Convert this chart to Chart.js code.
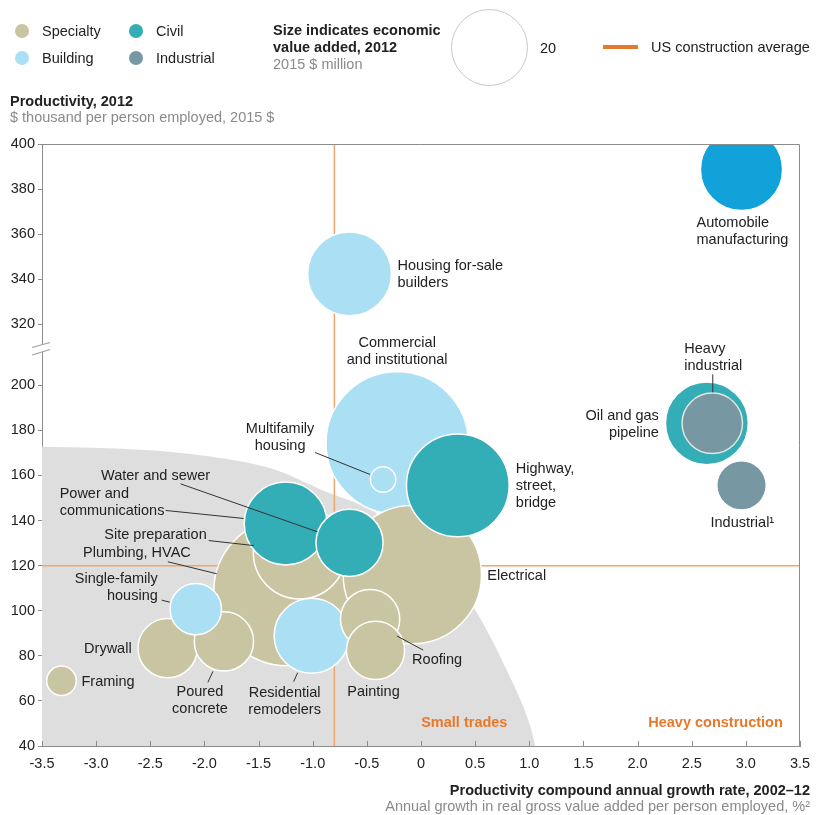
<!DOCTYPE html>
<html>
<head>
<meta charset="utf-8">
<script src="https://cdn.jsdelivr.net/npm/chart.js@4.4.1/dist/chart.umd.min.js"></script>
<style>
  body { margin: 0; background: #fff; font-family: "Liberation Sans", Arial, sans-serif; }
  #page { position: relative; width: 816px; height: 815px; overflow: hidden; }
  #chart { position: absolute; left: 0; top: 0; }
  .t { position: absolute; font-size: 14.5px; color: #222; white-space: nowrap; line-height: 17px; transform: translateY(-50%); }
  .b { font-weight: bold; }
  .g { color: #8a8a8a; }
  .dot { position: absolute; width: 14px; height: 14px; border-radius: 50%; transform: translate(-50%, -50%); }
</style>
</head>
<body>
<div id="page">
  <canvas id="chart" width="816" height="815"></canvas>

  <div class="dot" style="left:22px;top:31px;background:#c9c4a1"></div>
  <div class="t" style="left:42px;top:31px">Specialty</div>
  <div class="dot" style="left:22px;top:58px;background:#abdff3"></div>
  <div class="t" style="left:42px;top:58px">Building</div>
  <div class="dot" style="left:136px;top:31px;background:#33aeb6"></div>
  <div class="t" style="left:156px;top:31px">Civil</div>
  <div class="dot" style="left:136px;top:58px;background:#7797a3"></div>
  <div class="t" style="left:156px;top:58px">Industrial</div>

  <div class="t b" style="left:273px;top:30px">Size indicates economic</div>
  <div class="t b" style="left:273px;top:47px">value added, 2012</div>
  <div class="t g" style="left:273px;top:64px">2015 $ million</div>
  <div style="position:absolute;left:451px;top:9px;width:75px;height:75px;border:1.5px solid #c8c8c8;border-radius:50%"></div>
  <div class="t" style="left:540px;top:48px">20</div>
  <div style="position:absolute;left:603px;top:45px;width:35px;height:4px;background:#e8792b"></div>
  <div class="t" style="left:651px;top:47px">US construction average</div>

  <div class="t b" style="left:10px;top:101px">Productivity, 2012</div>
  <div class="t g" style="left:10px;top:117px">$ thousand per person employed, 2015 $</div>

  <div class="t b" style="right:6px;top:790px">Productivity compound annual growth rate, 2002–12</div>
  <div class="t g" style="right:6px;top:806px">Annual growth in real gross value added per person employed, %²</div>
</div>

<script>
// sectors, in drawing order (later ones sit on top)
const sectors = [
  "Commercial and institutional", "Plumbing, HVAC", "Site preparation", "Electrical",
  "Power and communications", "Water and sewer", "Highway, street, bridge", "Multifamily housing",
  "Residential remodelers", "Roofing", "Painting", "Drywall", "Poured concrete",
  "Single-family housing", "Framing", "Housing for-sale builders", "Oil and gas pipeline",
  "Heavy industrial", "Industrial", "Automobile manufacturing"
];
const sectorType = [
  "Building", "Specialty", "Specialty", "Specialty",
  "Civil", "Civil", "Civil", "Building",
  "Building", "Specialty", "Specialty", "Specialty", "Specialty",
  "Building", "Specialty", "Building", "Civil",
  "Industrial", "Industrial", "Auto"
];
// productivity CAGR 2002-12, %
const growthRate = [
  -0.22, -1.23, -1.12, -0.08,
  -1.25, -0.66, 0.34, -0.35,
  -1.01, -0.47, -0.42, -2.34, -1.82,
  -2.08, -3.32, -0.66, 2.64,
  2.69, 2.96, 2.96
];
// productivity 2012, $ thousand per person employed
const productivity = [
  174.4, 108.4, 125.8, 116,
  138.7, 130.1, 155.6, 158.2,
  88.9, 96.3, 82.4, 83.4, 86.4,
  100.7, 68.9, 342.4, 183.1,
  183.1, 155.6, 388.7
];
// economic value added 2012 (bubble area)
const valueAdded = [
  72, 78, 30.6, 68,
  24.4, 16, 37.5, 2.3,
  20, 12.5, 12, 12.5, 12.5,
  9.4, 3.1, 25, 24.4,
  13, 8.7, 24
];

const usAvgGrowth = -0.8;
const usAvgProductivity = 120;

const xTicks = [-3.5, -3, -2.5, -2, -1.5, -1, -0.5, 0, 0.5, 1, 1.5, 2, 2.5, 3, 3.5];
const yTicksLow = [40, 60, 80, 100, 120, 140, 160, 180, 200];
const yTicksHigh = [320, 340, 360, 380, 400];

// outline of the "small trades" zone
const smallTradesEdge = [
  [-3.5, 172.7], [-2.59, 171.4], [-1.98, 168.6], [-1.36, 162.7], [-0.9, 153.2],
  [-0.44, 144.1], [0.0, 128], [0.25, 116], [0.49, 101.2], [0.79, 73.8], [1.01, 48.6], [1.055, 40]
];

// broken y axis: values above the break are pulled down
const breakLow = 200, breakHigh = 320, gapUnits = 27;
const shift = breakHigh - breakLow - gapUnits;
const toAxis = v => v > breakLow ? v - shift : v;

const colors = {
  Specialty: "#c9c4a1",
  Building: "#abdff3",
  Civil: "#33aeb6",
  Industrial: "#7797a3",
  Auto: "#10a2d8"
};

const legendSize = 20, legendRadius = 37.5;
const radiusFor = v => legendRadius * Math.sqrt(v / legendSize);

// callouts: offsets from the bubble centre, in px
const callouts = [
  { name: "Automobile manufacturing", lines: ["Automobile", "manufacturing"], dx: -45, dy: 54, align: "left" },
  { name: "Housing for-sale builders", lines: ["Housing for-sale", "builders"], dx: 48, dy: -8, align: "left" },
  { name: "Commercial and institutional", lines: ["Commercial", "and institutional"], dx: 0, dy: -100, align: "center" },
  { name: "Multifamily housing", lines: ["Multifamily", "housing"], dx: -103, dy: -50, align: "center", leader: [-68, -27, -13, -5] },
  { name: "Water and sewer", lines: ["Water and sewer"], dx: -194, dy: -67, align: "center", leader: [-169, -59, -32, -11] },
  { name: "Power and communications", lines: ["Power and", "communications"], dx: -226, dy: -29, align: "left", leader: [-120, -13, -42, -5] },
  { name: "Site preparation", lines: ["Site preparation"], dx: -93, dy: -18, align: "right", leader: [-91, -12, -46, -7] },
  { name: "Plumbing, HVAC", lines: ["Plumbing, HVAC"], dx: -97, dy: -39, align: "right", leader: [-120, -30, -71, -18] },
  { name: "Single-family housing", lines: ["Single-family", "housing"], dx: -38, dy: -30, align: "right", leader: [-34, -9, -26, -7] },
  { name: "Drywall", lines: ["Drywall"], dx: -36, dy: 1, align: "right" },
  { name: "Framing", lines: ["Framing"], dx: 20, dy: 1, align: "left" },
  { name: "Poured concrete", lines: ["Poured", "concrete"], dx: -24, dy: 51, align: "center", leader: [-16, 41, -11, 30] },
  { name: "Residential remodelers", lines: ["Residential", "remodelers"], dx: -27, dy: 57, align: "center", leader: [-18, 46, -14, 37] },
  { name: "Painting", lines: ["Painting"], dx: -2, dy: 42, align: "center" },
  { name: "Roofing", lines: ["Roofing"], dx: 42, dy: 41, align: "left", leader: [53, 31, 27, 17] },
  { name: "Electrical", lines: ["Electrical"], dx: 75, dy: 1, align: "left" },
  { name: "Highway, street, bridge", lines: ["Highway,", "street,", "bridge"], dx: 58, dy: -16, align: "left" },
  { name: "Oil and gas pipeline", lines: ["Oil and gas", "pipeline"], dx: -48, dy: -7, align: "right" },
  { name: "Heavy industrial", lines: ["Heavy", "industrial"], dx: -28, dy: -74, align: "left", leader: [0.5, -49, 0.5, -31] },
  { name: "Industrial", lines: ["Industrial¹"], dx: -31, dy: 38, align: "left" }
];

const FONT = '14.5px "Liberation Sans", Arial, sans-serif';
const BOLD = 'bold 14.5px "Liberation Sans", Arial, sans-serif';

const decor = {
  id: "decor",
  afterDatasetsDraw(chart) {
    const { ctx, chartArea: a, scales: { x, y } } = chart;
    const meta = chart.getDatasetMeta(0);
    ctx.save();

    // frame top and right
    ctx.strokeStyle = "#8c8c8c";
    ctx.lineWidth = 1;
    ctx.beginPath();
    ctx.moveTo(a.left, a.top + 0.5);
    ctx.lineTo(a.right - 0.5, a.top + 0.5);
    ctx.lineTo(a.right - 0.5, a.bottom);
    ctx.stroke();

    // x tick marks point inward
    ctx.beginPath();
    xTicks.forEach(v => {
      const px = Math.round(x.getPixelForValue(v)) + 0.5;
      ctx.moveTo(px, a.bottom);
      ctx.lineTo(px, a.bottom - 5);
    });
    ctx.stroke();

    // axis break
    const by = y.getPixelForValue(216.3);
    ctx.fillStyle = "#fff";
    ctx.fillRect(a.left - 2, by - 3.5, 4, 7);
    ctx.strokeStyle = "#a0a0a0";
    ctx.lineWidth = 1.2;
    ctx.beginPath();
    ctx.moveTo(a.left - 10, by - 1); ctx.lineTo(a.left + 8, by - 6);
    ctx.moveTo(a.left - 10, by + 6.5); ctx.lineTo(a.left + 8, by + 1);
    ctx.stroke();

    // callouts
    ctx.font = FONT;
    ctx.fillStyle = "#222";
    ctx.textBaseline = "middle";
    ctx.strokeStyle = "#333";
    ctx.lineWidth = 1;
    callouts.forEach(c => {
      const el = meta.data[sectors.indexOf(c.name)];
      ctx.textAlign = c.align;
      c.lines.forEach((t, k) => ctx.fillText(t, el.x + c.dx, el.y + c.dy + k * 17));
      if (c.leader) {
        const [x1, y1, x2, y2] = c.leader;
        ctx.beginPath();
        ctx.moveTo(el.x + x1, el.y + y1);
        ctx.lineTo(el.x + x2, el.y + y2);
        ctx.stroke();
      }
    });

    // zone names
    ctx.font = BOLD;
    ctx.fillStyle = "#e8792b";
    ctx.textAlign = "center";
    ctx.fillText("Small trades", x.getPixelForValue(0.4), y.getPixelForValue(50));
    ctx.fillText("Heavy construction", x.getPixelForValue(2.72), y.getPixelForValue(50));
    ctx.restore();
  }
};

new Chart(document.getElementById("chart"), {
  type: "bubble",
  data: {
    datasets: [
      {
        label: "Sectors",
        data: sectors.map((s, i) => ({ x: growthRate[i], y: toAxis(productivity[i]), r: radiusFor(valueAdded[i]) })),
        backgroundColor: sectorType.map(t => colors[t]),
        borderColor: sectors.map(s => s === "Heavy industrial" ? "#e4e4e4" : "#ffffff"),
        borderWidth: 1.5,
        hoverRadius: 0,
        clip: 0,
        order: 0
      },
      {
        type: "line",
        label: "avg growth",
        data: [{ x: usAvgGrowth, y: 40 }, { x: usAvgGrowth, y: toAxis(400) }],
        borderColor: "#f2a66f",
        borderWidth: 1.5,
        pointRadius: 0,
        order: 1
      },
      {
        type: "line",
        label: "avg productivity",
        data: [{ x: -3.5, y: usAvgProductivity }, { x: 3.5, y: usAvgProductivity }],
        borderColor: "#f2a66f",
        borderWidth: 1.5,
        pointRadius: 0,
        order: 1
      },
      {
        type: "line",
        label: "Small trades",
        data: smallTradesEdge.map(p => ({ x: p[0], y: p[1] })),
        borderWidth: 0,
        borderColor: "rgba(0,0,0,0)",
        backgroundColor: "#dedede",
        fill: "start",
        pointRadius: 0,
        cubicInterpolationMode: "monotone",
        clip: 0,
        order: 2
      }
    ]
  },
  options: {
    responsive: false,
    animation: false,
    devicePixelRatio: 1,
    events: [],
    layout: { autoPadding: false, padding: { top: 144, right: 16, bottom: 39, left: 0 } },
    plugins: {
      legend: { display: false },
      tooltip: { enabled: false }
    },
    scales: {
      x: {
        type: "linear",
        min: -3.5,
        max: 3.5,
        afterBuildTicks: s => { s.ticks = xTicks.map(v => ({ value: v })); },
        afterFit: s => { s.height = 30; },
        ticks: {
          padding: 1,
          color: "#222",
          font: { family: '"Liberation Sans", Arial, sans-serif', size: 14.5 },
          callback: v => v === 0 ? "0" : v.toFixed(1)
        },
        grid: { display: false },
        border: { color: "#8c8c8c", width: 1 }
      },
      y: {
        type: "linear",
        min: 40,
        max: toAxis(400),
        afterBuildTicks: s => { s.ticks = yTicksLow.concat(yTicksHigh).map(v => ({ value: toAxis(v) })); },
        afterFit: s => { s.width = 42; },
        ticks: {
          padding: 3,
          color: "#222",
          font: { family: '"Liberation Sans", Arial, sans-serif', size: 14.5 },
          callback: v => v > breakLow ? v + shift : v
        },
        grid: { drawOnChartArea: false, drawTicks: true, tickLength: 4, color: "#8c8c8c" },
        border: { color: "#8c8c8c", width: 1 }
      }
    }
  },
  plugins: [decor]
});
</script>
</body>
</html>
